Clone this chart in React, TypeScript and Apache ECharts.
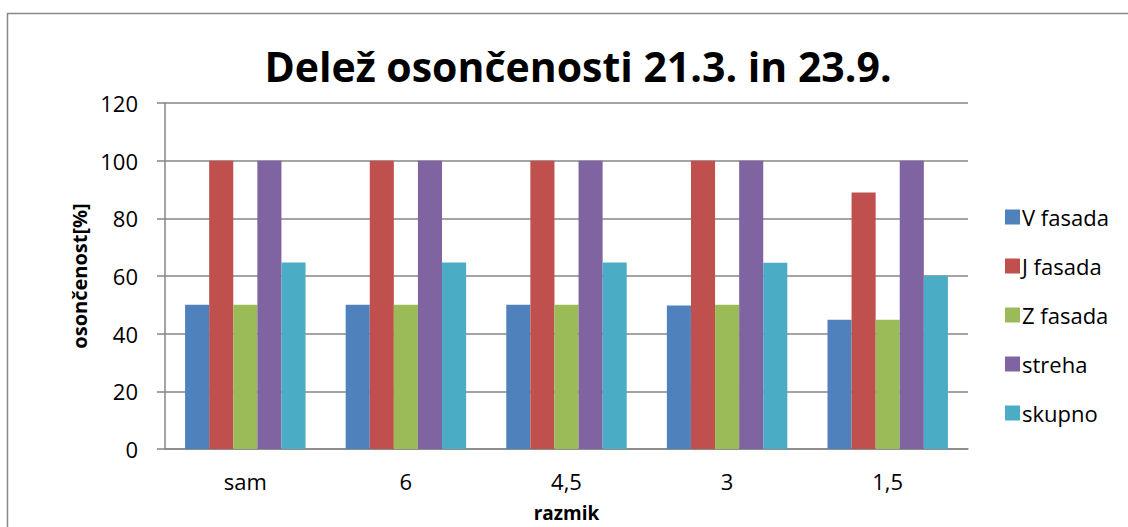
import React, { useEffect, useRef } from "react";
import * as echarts from "echarts";

const categories = ["sam", "6", "4,5", "3", "1,5"];
const vFasada = [50, 50, 50, 49.8, 44.8];
const jFasada = [100, 100, 100, 100, 89];
const zFasada = [50, 50, 50, 50, 44.8];
const streha = [100, 100, 100, 100, 100];
const skupno = [64.7, 64.7, 64.7, 64.6, 60.1];

const seriesNames = ["V fasada", "J fasada", "Z fasada", "streha", "skupno"];
const seriesData = [vFasada, jFasada, zFasada, streha, skupno];
const colors = ["#4F81BD", "#C0504D", "#9BBB59", "#8064A2", "#4BACC6"];

const FONT = "'Open Sans', 'Noto Sans', sans-serif";

export default function App() {
  const ref = useRef<HTMLDivElement>(null);
  useEffect(() => {
    if (!ref.current) return;
    const chart = echarts.init(ref.current, undefined, { renderer: "svg" });
    chart.setOption({
      animation: false,
      backgroundColor: "#fff",
      textStyle: { fontFamily: FONT },
      title: {
        text: "Delež osončenosti 21.3. in 23.9.",
        left: 573,
        top: 40,
        textAlign: "center",
        textStyle: { fontSize: 41, fontWeight: "bold", color: "#000", fontFamily: FONT },
      },
      graphic: [
        {
          type: "rect",
          shape: { x: 7.5, y: 13.5, width: 1140, height: 540 },
          style: { fill: "none", stroke: "#888", lineWidth: 1.5 },
          silent: true,
        },
      ],
      legend: {
        orient: "vertical",
        left: 1000,
        top: 201,
        itemWidth: 15,
        itemHeight: 15,
        itemGap: 27,
        icon: "rect",
        data: seriesNames,
        textStyle: { fontSize: 22, color: "#000", fontFamily: FONT, padding: [0, 0, 0, -3] },
      },
      grid: { left: 165, right: 160, top: 103, bottom: 76, containLabel: false },
      xAxis: {
        type: "category",
        data: categories,
        name: "razmik",
        nameLocation: "middle",
        nameGap: 54,
        nameTextStyle: { fontSize: 19, fontWeight: "bold", color: "#000", fontFamily: FONT },
        axisLine: { lineStyle: { color: "#868686", width: 1.5 } },
        axisTick: { show: false },
        axisLabel: { fontSize: 22, color: "#000", margin: 21, fontFamily: FONT },
      },
      yAxis: {
        type: "value",
        min: 0,
        max: 120,
        interval: 20,
        name: "osončenost[%]",
        nameLocation: "middle",
        nameGap: 74,
        nameTextStyle: { fontSize: 20, fontWeight: "bold", color: "#000", fontFamily: FONT },
        axisLine: { show: true, lineStyle: { color: "#868686", width: 1.5 } },
        axisTick: { show: true, inside: false, length: 8, lineStyle: { color: "#868686", width: 1.5 } },
        splitLine: { lineStyle: { color: "#868686", width: 1.5 } },
        axisLabel: { fontSize: 22, color: "#000", margin: 27, fontFamily: FONT },
      },
      series: seriesData.map((d, i) => ({
        name: seriesNames[i],
        type: "bar",
        data: d,
        barGap: "0%",
        barCategoryGap: "25%",
        itemStyle: { color: colors[i] },
      })),
    });
    return () => chart.dispose();
  }, []);
  return <div ref={ref} style={{ width: 1128, height: 527, position: "absolute", left: 0, top: 0 }} />;
}
